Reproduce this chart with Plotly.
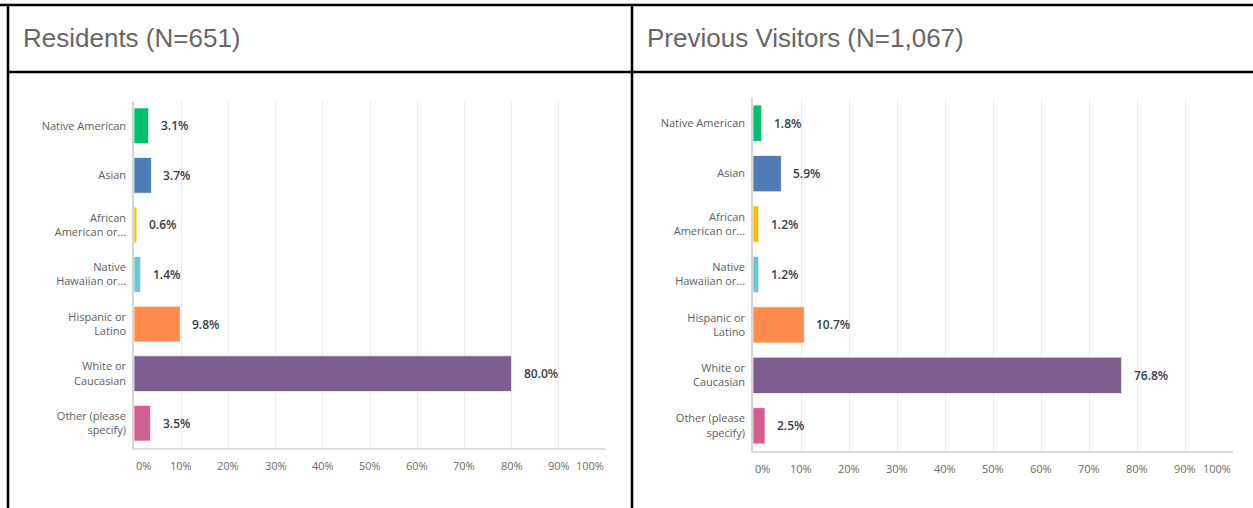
import plotly.graph_objects as go

categories = ["Native American", "Asian", "African<br>American or...", "Native<br>Hawaiian or...",
              "Hispanic or<br>Latino", "White or<br>Caucasian", "Other (please<br>specify)"]
residents = [3.1, 3.7, 0.6, 1.4, 9.8, 80.0, 3.5]
visitors = [1.8, 5.9, 1.2, 1.2, 10.7, 76.8, 2.5]
colors = ["#00BF6F", "#507CB6", "#F9BE00", "#6BC8CD", "#FF8B4F", "#7D5E90", "#D25F90"]
tick_values = [0, 10, 20, 30, 40, 50, 60, 70, 80, 90, 100]
tick_labels = [f"{t}%" for t in tick_values]
titles = ["Residents (N=651)", "Previous Visitors (N=1,067)"]

W, H = 1253, 508

def px_x(p):
    return p / W

def px_y(p):
    return 1 - p / H

fig = go.Figure()

panels = [
    dict(vals=residents, xa="x", ya="y", xd=[px_x(134), px_x(606)], yd=[px_y(448), px_y(101)], ticky=px_y(465)),
    dict(vals=visitors, xa="x2", ya="y2", xd=[px_x(753), px_x(1233)], yd=[px_y(451), px_y(98)], ticky=px_y(468)),
]

annotations = []
for i, p in enumerate(panels):
    fig.add_trace(go.Bar(
        x=p["vals"], y=categories, orientation="h",
        marker=dict(color=colors, line=dict(color="rgba(255,255,255,0.7)", width=1)),
        width=0.72, xaxis=p["xa"], yaxis=p["ya"], showlegend=False, hoverinfo="skip",
    ))
    for v, c in zip(p["vals"], categories):
        annotations.append(dict(
            x=v, y=c, xref=p["xa"], yref=p["ya"], text=f"{v:.1f}%", showarrow=False,
            xanchor="left", xshift=10,
            font=dict(family="Open Sans", size=12, color="#333e48", weight=600),
        ))
    for t, lab in zip(tick_values, tick_labels):
        anchor = "left" if t == 0 else ("right" if t == 100 else "center")
        annotations.append(dict(
            x=t, y=p["ticky"], xref=p["xa"], yref="paper", text=lab, showarrow=False,
            xanchor=anchor, yanchor="middle",
            font=dict(family="Open Sans", size=11, color="#6b6b6b"),
        ))
    suffix = "" if i == 0 else "2"
    fig.update_layout(**{
        f"xaxis{suffix}": dict(
            domain=p["xd"], anchor=p["ya"], range=[0, 100], showgrid=True, gridcolor="#ececec",
            gridwidth=1, tickvals=tick_values, showticklabels=False, zeroline=False,
            showline=True, linecolor="#dcdcdc", linewidth=2, fixedrange=True,
        ),
        f"yaxis{suffix}": dict(
            domain=p["yd"], anchor=p["xa"], type="category", categoryarray=categories,
            autorange="reversed", showgrid=False, zeroline=False, showline=True,
            linecolor="#d5d5d5", linewidth=1.5, ticks="", ticklabelstandoff=4,
            tickfont=dict(family="Open Sans", size=11, color="#5e5e5e"), fixedrange=True,
        ),
    })

# titles
annotations.append(dict(x=px_x(21), y=px_y(38), xref="paper", yref="paper", text=titles[0],
                        showarrow=False, xanchor="left", yanchor="middle",
                        font=dict(family="Liberation Sans", size=26, color="#666666")))
annotations.append(dict(x=px_x(645), y=px_y(38), xref="paper", yref="paper", text=titles[1],
                        showarrow=False, xanchor="left", yanchor="middle",
                        font=dict(family="Liberation Sans", size=26, color="#666666")))

line = dict(color="#000000", width=2.5)
shapes = [
    dict(type="line", xref="paper", yref="paper", x0=0, x1=1, y0=px_y(5), y1=px_y(5), line=line),
    dict(type="line", xref="paper", yref="paper", x0=px_x(8), x1=1, y0=px_y(72), y1=px_y(72), line=line),
    dict(type="line", xref="paper", yref="paper", x0=px_x(8), x1=px_x(8), y0=px_y(4), y1=0, line=line),
    dict(type="line", xref="paper", yref="paper", x0=px_x(632), x1=px_x(632), y0=px_y(4), y1=0, line=line),
]

fig.update_layout(
    width=W, height=H, margin=dict(l=0, r=0, t=0, b=0),
    paper_bgcolor="white", plot_bgcolor="white",
    annotations=annotations, shapes=shapes, bargap=0.28,
)

fig.write_html("out.html", config={"displayModeBar": False},
               post_script="document.body.style.margin='0';document.body.style.overflow='hidden';")
